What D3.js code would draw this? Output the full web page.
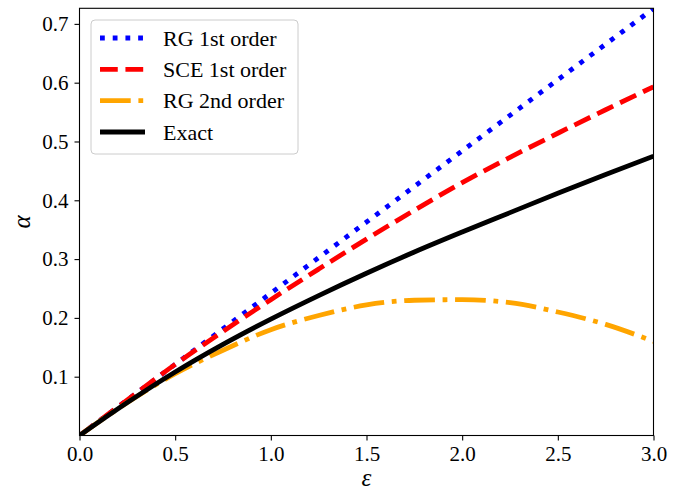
<!DOCTYPE html>
<html>
<head>
<meta charset="utf-8">
<script src="https://cdn.jsdelivr.net/npm/d3@7"></script>
<style>
  body { margin: 0; background: #fff; }
  svg { display: block; }
  svg text { font-family: "Liberation Serif", "DejaVu Serif", serif; }
</style>
</head>
<body>
<div id="chart"></div>
<script>
// Values
const epsValues = [0, 0.25, 0.5, 0.75, 1.0, 1.25, 1.5, 1.75, 2.0, 2.25, 2.5, 2.75, 3.0];
const rgFirst = [0, 0.0605, 0.121, 0.1815, 0.242, 0.3025, 0.363, 0.4235, 0.484, 0.5445, 0.605, 0.6655, 0.726];
const sceFirst = [0, 0.0605, 0.121, 0.177, 0.231, 0.283, 0.334, 0.383, 0.43, 0.473, 0.514, 0.554, 0.593];
const rgSecond = [0, 0.056, 0.105, 0.145, 0.18, 0.204, 0.222, 0.23, 0.231, 0.226, 0.21, 0.189, 0.16];
const exact = [0, 0.056, 0.108, 0.155, 0.198, 0.238, 0.276, 0.312, 0.346, 0.379, 0.412, 0.444, 0.475];

const xTicks = [0, 0.5, 1.0, 1.5, 2.0, 2.5, 3.0];
const yTicks = [0.1, 0.2, 0.3, 0.4, 0.5, 0.6, 0.7];

const seriesNames = ["RG 1st order", "SCE 1st order", "RG 2nd order", "Exact"];
const seriesValues = [rgFirst, sceFirst, rgSecond, exact];
const seriesColours = ["#0000ff", "#ff0000", "#ffa500", "#000000"];

// Display options
const width = 695;
const height = 491;
const margin = { top: 8.3, right: 41.5, bottom: 55.5, left: 79.5 };
const lineWidth = 4.8;
const dashes = [
  `${lineWidth},${lineWidth * 1.65}`,
  `${lineWidth * 3.7},${lineWidth * 1.6}`,
  `${lineWidth * 6.4},${lineWidth * 1.6},${lineWidth},${lineWidth * 1.6}`,
  null,
];

const svg = d3.select("#chart").append("svg")
  .attr("width", width)
  .attr("height", height);

const x = d3.scaleLinear().domain([0, 3]).range([margin.left, width - margin.right]);
const y = d3.scaleLinear().domain([0, 0.7265]).range([height - margin.bottom, margin.top]);

// Clip lines to plot area
svg.append("clipPath").attr("id", "plot-clip")
  .append("rect")
  .attr("x", margin.left)
  .attr("y", margin.top)
  .attr("width", width - margin.left - margin.right)
  .attr("height", height - margin.top - margin.bottom);

const line = d3.line()
  .x((d) => x(d[0]))
  .y((d) => y(d[1]))
  .curve(d3.curveMonotoneX);

const linesG = svg.append("g").attr("clip-path", "url(#plot-clip)");

seriesValues.forEach((vals, i) => {
  linesG.append("path")
    .datum(epsValues.map((e, j) => [e, vals[j]]))
    .attr("d", line)
    .attr("fill", "none")
    .attr("stroke", seriesColours[i])
    .attr("stroke-width", lineWidth)
    .attr("stroke-dasharray", dashes[i]);
});

// Axes
const xAxis = svg.append("g")
  .attr("transform", `translate(0,${height - margin.bottom})`)
  .call(d3.axisBottom(x).tickValues(xTicks).tickFormat(d3.format(".1f")).tickSize(5).tickPadding(6));
const yAxis = svg.append("g")
  .attr("transform", `translate(${margin.left},0)`)
  .call(d3.axisLeft(y).tickValues(yTicks).tickFormat(d3.format(".1f")).tickSize(5).tickPadding(6));

[xAxis, yAxis].forEach((ax) => {
  ax.attr("font-family", '"Liberation Serif", serif').attr("font-size", 21);
  ax.select(".domain").remove();
  ax.selectAll(".tick line").attr("stroke", "#000").attr("stroke-width", 1.1);
  ax.selectAll(".tick text").attr("fill", "#000");
});

// Frame
svg.append("rect")
  .attr("x", margin.left)
  .attr("y", margin.top)
  .attr("width", width - margin.left - margin.right)
  .attr("height", height - margin.top - margin.bottom)
  .attr("fill", "none")
  .attr("stroke", "#000")
  .attr("stroke-width", 1.1);

// Axis labels
svg.append("text")
  .attr("x", (margin.left + width - margin.right) / 2)
  .attr("y", 486)
  .attr("text-anchor", "middle")
  .style("font-size", "25px")
  .style("font-style", "italic")
  .text("ε");

svg.append("text")
  .attr("transform", `translate(30,${(margin.top + height - margin.bottom) / 2}) rotate(-90)`)
  .attr("text-anchor", "middle")
  .style("font-size", "25px")
  .style("font-style", "italic")
  .text("α");

// Legend
const legend = svg.append("g");
legend.append("rect")
  .attr("x", 91)
  .attr("y", 20)
  .attr("width", 207)
  .attr("height", 134)
  .attr("rx", 4)
  .attr("fill", "#fff")
  .attr("fill-opacity", 0.8)
  .attr("stroke", "#cccccc")
  .attr("stroke-width", 1);

const rowY = d3.scalePoint().domain(seriesNames).range([38, 132]);

seriesNames.forEach((name, i) => {
  legend.append("line")
    .attr("x1", 100)
    .attr("x2", 145)
    .attr("y1", rowY(name))
    .attr("y2", rowY(name))
    .attr("stroke", seriesColours[i])
    .attr("stroke-width", lineWidth)
    .attr("stroke-dasharray", dashes[i]);
  legend.append("text")
    .attr("x", 163)
    .attr("y", rowY(name))
    .attr("dy", "0.35em")
    .style("font-size", "22px")
    .text(name);
});
</script>
</body>
</html>
